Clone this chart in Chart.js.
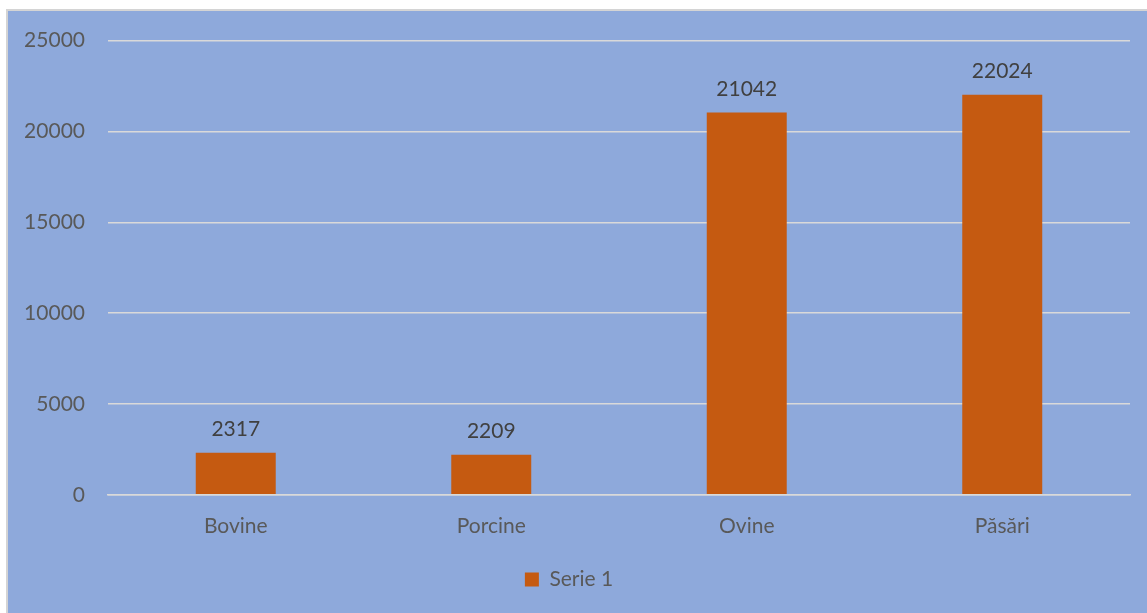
<!DOCTYPE html>
<html>
<head>
<meta charset="utf-8">
<script src="https://cdn.jsdelivr.net/npm/chart.js@4"></script>
<style>
    body { margin: 0; background: #ffffff; }
    #wrap {
        position: absolute;
        left: 6px; top: 9px;
        width: 1139px; height: 602px;
        background: #8EA9DB;
        border-left: 2px solid #d4d4d4;
        border-top: 2px solid #d4d4d4;
        overflow: hidden;
    }
    canvas { display: block; margin-top: -6px; }
</style>
</head>
<body>
<div id="wrap"><canvas id="chart" width="1139" height="608"></canvas></div>
<script>
// Données du graphique
const categories = ['Bovine', 'Porcine', 'Ovine', 'Păsări'];
const serie1 = [2317, 2209, 21042, 22024];
const seriesLabel = 'Serie 1';

const fontFamily = 'Lato, "Open Sans", sans-serif';

// Etiquettes de valeurs au-dessus des barres
const valueLabels = {
    id: 'valueLabels',
    afterDatasetsDraw(chart) {
        const ctx = chart.ctx;
        ctx.save();
        ctx.font = '21px ' + fontFamily;
        ctx.fillStyle = '#404040';
        ctx.textAlign = 'center';
        ctx.textBaseline = 'bottom';
        chart.getDatasetMeta(0).data.forEach((bar, i) => {
            ctx.fillText(String(serie1[i]), bar.x, bar.y - 13);
        });
        ctx.restore();
    }
};

new Chart(document.getElementById('chart'), {
    type: 'bar',
    data: {
        labels: categories,
        datasets: [{
            label: seriesLabel,
            data: serie1,
            backgroundColor: '#C55A11',
            borderWidth: 0,
            categoryPercentage: 1,
            barPercentage: 0.313
        }]
    },
    options: {
        responsive: false,
        animation: false,
        layout: { padding: { top: 14, right: 17, left: 0, bottom: 13 } },
        plugins: {
            legend: {
                position: 'bottom',
                labels: {
                    boxWidth: 14,
                    boxHeight: 14,
                    color: '#595959',
                    font: { family: fontFamily, size: 21 },
                    padding: 11
                }
            },
            tooltip: { enabled: false }
        },
        scales: {
            y: {
                min: 0,
                max: 25000,
                ticks: {
                    stepSize: 5000,
                    color: '#595959',
                    font: { family: fontFamily, size: 21 },
                    padding: 23,
                    callback: (v) => String(v)
                },
                grid: { color: '#D9D9D9', lineWidth: 1.5, drawTicks: false },
                border: { display: false },
                afterFit(scale) { scale.width = 100; }
            },
            x: {
                ticks: {
                    color: '#595959',
                    font: { family: fontFamily, size: 21 },
                    padding: 19
                },
                grid: { display: false, drawTicks: false },
                border: { color: '#D9D9D9', width: 1.5 }
            }
        }
    },
    plugins: [valueLabels]
});
</script>
</body>
</html>
